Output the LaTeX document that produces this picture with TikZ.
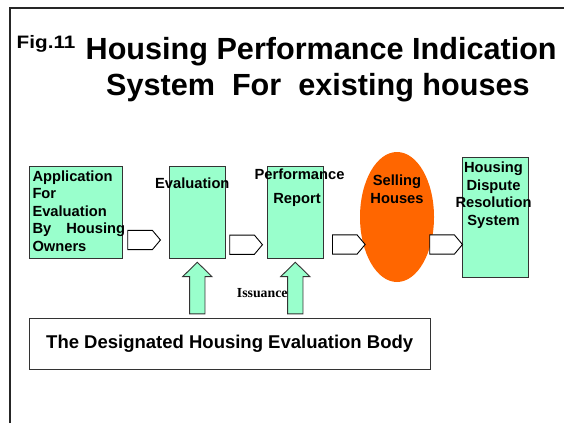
\documentclass[tikz,border=0pt]{standalone}
\usepackage{fontspec}
\setmainfont{Liberation Sans}
\newfontfamily\serifbold{Liberation Serif}
\usetikzlibrary{
    shapes.arrows,
    shapes.geometric, % ellipse
    positioning
}
\definecolor{mint}{HTML}{99FFCC}
\definecolor{sellorange}{HTML}{FF6600}
\definecolor{edgegray}{HTML}{333333}
\newcommand{\boxfont}{\fontsize{14.7pt}{17.5pt}\selectfont\bfseries}
\newcommand{\titlefont}{\fontsize{30.6pt}{36pt}\selectfont\bfseries}

\begin{document}
\begin{tikzpicture}[x=1pt,y=-1pt,
    greenbox/.style={draw=edgegray,fill=mint,line width=0.9pt,inner sep=0pt},
    pentarrow/.style={single arrow,draw=black,fill=white,line width=0.9pt,inner xsep=0pt,inner ysep=9.15pt,
        minimum width=18.3pt,minimum height=32.7pt,single arrow head extend=0pt,
        single arrow tip angle=100,anchor=tail},
    uparrow/.style={single arrow,draw=edgegray,fill=mint,line width=0.9pt,inner xsep=0pt,inner ysep=7.2pt,
        minimum width=28.4pt,minimum height=51.6pt,single arrow head extend=7pt,
        single arrow tip angle=91,rotate=90,anchor=tail},
    boxtext/.style={inner sep=0pt,font=\boxfont,align=center}]
    \useasboundingbox (0,0) rectangle (564,423);
    % frame of the slide
    \draw[line width=2pt,draw=black!85] (9.5,423) |- (564,8);
    % title
    \node[anchor=base west,inner sep=0pt,xscale=1.15,font=\fontsize{18pt}{20pt}\selectfont\bfseries] (fig) at (16.5,48) {Fig.11};
    \node[anchor=base west,inner sep=0pt,font=\titlefont] (title1) at (85.5,59.5) {Housing Performance Indication};
    \node[anchor=base west,inner sep=0pt,font=\titlefont] (title2) at (106,95.5) {System~~For~~existing houses};
    % boxes
    \node[greenbox,minimum width=93.2pt,minimum height=92.5pt] (app) at (76.1,212.2) {};
    \node[greenbox,minimum width=56.4pt,minimum height=92.7pt] (eval) at (197.5,212.3) {};
    \node[greenbox,minimum width=56pt,minimum height=92.7pt] (perf) at (295,212.3) {};
    \node[ellipse,fill=sellorange,minimum width=74pt,minimum height=130pt,inner sep=0pt] (sell) at (397,217) {};
    \node[greenbox,minimum width=66pt,minimum height=120.3pt] (disp) at (495.3,217.2) {};
    % texts (base = last line)
    \node[boxtext,align=left,anchor=base west] (apptext) at (32.3,251)
        {Application\\For\\Evaluation\\By\hspace{15pt}Housing\\Owners};
    \node[boxtext,anchor=base] (evaltext) at (192.3,188) {Evaluation};
    \node[boxtext,anchor=base] (perftext) at (299.5,179) {Performance};
    \node[boxtext,anchor=base] (reporttext) at (297,203) {Report};
    \node[boxtext,anchor=base] (selltext) at (397,203) {Selling\\Houses};
    \node[boxtext,anchor=base] (disptext) at (493.5,225) {Housing\\Dispute\\Resolution\\System};
    % white arrows between the steps
    \node[pentarrow] (p1) at (127.3,240) {};
    \node[pentarrow] (p2) at (229.3,244.7) {};
    \node[pentarrow] (p3) at (332,244.5) {};
    \node[pentarrow] (p4) at (429.3,244.5) {};
    % issuing body
    \node[draw=edgegray,fill=white,line width=0.9pt,minimum width=400.7pt,minimum height=51pt,inner sep=0pt,
        font=\fontsize{18.5pt}{22pt}\selectfont\bfseries] (body) at (229.7,343.8) {The Designated Housing Evaluation Body};
    \node[uparrow] (up1) at (197.3,314.3) {};
    \node[uparrow] (up2) at (295.3,314.3) {};
    \node[anchor=base west,inner sep=0pt,font=\serifbold\bfseries\fontsize{13.8pt}{16pt}\selectfont] (issue) at (236.7,297.7) {Issuance};
\end{tikzpicture}
\end{document}
